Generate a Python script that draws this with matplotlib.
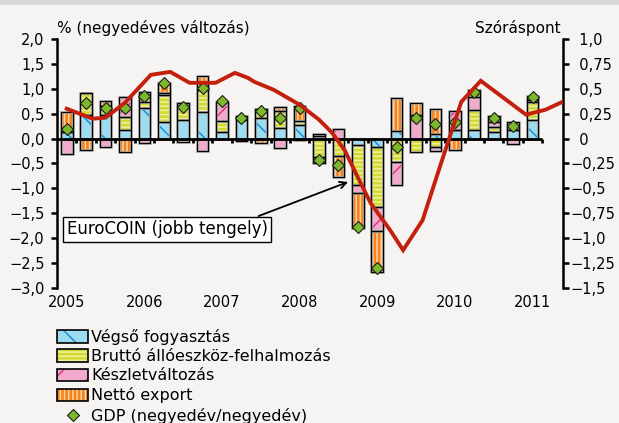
import matplotlib
matplotlib.use("Agg")
import matplotlib.pyplot as plt
from matplotlib.patches import Rectangle
from matplotlib.lines import Line2D
from matplotlib.legend_handler import HandlerTuple
import numpy as np

# ---------------- data ----------------
quarters = ["2005Q1", "2005Q2", "2005Q3", "2005Q4",
            "2006Q1", "2006Q2", "2006Q3", "2006Q4",
            "2007Q1", "2007Q2", "2007Q3", "2007Q4",
            "2008Q1", "2008Q2", "2008Q3", "2008Q4",
            "2009Q1", "2009Q2", "2009Q3", "2009Q4",
            "2010Q1", "2010Q2", "2010Q3", "2010Q4",
            "2011Q1"]
year_labels = ["2005", "2006", "2007", "2008", "2009", "2010", "2011"]

vegso = [0.14, 0.47, 0.47, 0.17, 0.61, 0.34, 0.37, 0.54, 0.14, 0.38, 0.41, 0.22, 0.27,
         0.05, 0.00, -0.13, -0.16, 0.15, 0.00, 0.10, 0.17, 0.17, 0.14, 0.17, 0.37]
brutto = [0.00, 0.44, 0.18, 0.27, 0.13, 0.53, 0.34, 0.43, 0.22, 0.08, 0.18, 0.33, 0.09,
          -0.37, -0.35, -0.80, -1.21, -0.47, -0.26, -0.16, 0.00, 0.40, 0.10, 0.00, 0.37]
keszlet = [-0.30, 0.00, -0.17, 0.40, -0.08, 0.05, 0.00, -0.24, 0.38, 0.00, 0.00, -0.18, -0.03,
           -0.13, 0.20, -0.16, -0.49, -0.46, 0.47, -0.09, 0.39, 0.27, 0.10, -0.10, 0.03]
netto = [0.40, -0.23, 0.11, -0.26, 0.20, 0.19, -0.06, 0.28, 0.00, -0.04, -0.08, 0.08, 0.30,
         0.04, -0.42, -0.71, -0.81, 0.66, 0.25, 0.49, -0.23, 0.13, 0.11, 0.17, 0.09]
gdp = [0.20, 0.71, 0.61, 0.61, 0.85, 1.11, 0.64, 1.01, 0.76, 0.41, 0.55, 0.42, 0.61,
       -0.42, -0.53, -1.77, -2.59, -0.16, 0.42, 0.29, 0.34, 0.94, 0.41, 0.25, 0.83]

# EuroCOIN (monthly readings, right axis)
eurocoin_months = ["2005-01", "2005-05", "2005-07", "2005-10", "2006-02", "2006-05",
                   "2006-08", "2006-12", "2007-03", "2007-05", "2007-06", "2007-09",
                   "2008-01", "2008-04", "2008-06", "2008-08", "2008-10", "2008-12",
                   "2009-03", "2009-05", "2009-08", "2009-11", "2010-02", "2010-05",
                   "2010-12", "2011-03", "2011-06"]
eurocoin = [0.30, 0.20, 0.21, 0.36, 0.64, 0.67,
            0.56, 0.56, 0.66, 0.61, 0.57, 0.49,
            0.34, 0.19, 0.06, -0.12, -0.39, -0.65,
            -0.92, -1.12, -0.82, -0.22, 0.37, 0.58,
            0.24, 0.29, 0.38]

series_names = ["Végső fogyasztás", "Bruttó állóeszköz-felhalmozás",
                "Készletváltozás", "Nettó export"]
gdp_name = "GDP (negyedév/negyedév)"
left_title = "% (negyedéves változás)"
right_title = "Szóráspont"
annot_text = "EuroCOIN (jobb tengely)"

# ---------------- style ----------------
BG = "#F5F4F2"
fills = ["#9CDCF1", "#D2DA32", "#F2AACC", "#F4821F"]
hatch_cols = ["#1C8FD6", "#F0F0A0", "#E2358A", "#FFD3A0"]
hatches = ["\\", "----", "/", "||||"]
plt.rcParams["hatch.linewidth"] = 1.1
plt.rcParams["font.family"] = ["DejaVu Sans"]

def fmt(v, dec, pad_pos=False):
    if dec == 0:
        s = "0"
    else:
        s = f"{abs(v):.{dec}f}".replace(".", ",")
        if dec == 2 and s.endswith("0"):
            s = s[:-1]
    if v < -1e-9:
        return "\u2212" + s
    return ("\u2007" + s) if pad_pos else s

fig = plt.figure(figsize=(6.19, 4.23), dpi=100, facecolor=BG)
fig.patches.append(Rectangle((0, 1 - 5 / 423), 1, 5 / 423, transform=fig.transFigure,
                             facecolor="#D9D8D6", edgecolor="none"))
ax = fig.add_axes([57 / 619, 1 - 288 / 423, (563 - 57) / 619, (288 - 39) / 423])
ax.set_facecolor(BG)
ax.set_xlim(-0.5, 25.57)
ax.set_ylim(-3.0, 2.0)

x = np.arange(len(quarters))
W = 0.6
data = [np.array(vegso), np.array(brutto), np.array(keszlet), np.array(netto)]
pos_base = np.zeros(len(x))
neg_base = np.zeros(len(x))
for k, vals in enumerate(data):
    bottoms = np.where(vals >= 0, pos_base, neg_base)
    ax.bar(x, vals, W, bottom=bottoms, color=fills[k], edgecolor="none", zorder=2)
    ax.bar(x, vals, W, bottom=bottoms, facecolor="none", edgecolor=hatch_cols[k],
           hatch=hatches[k], linewidth=0, zorder=3)
    ax.bar(x, vals, W, bottom=bottoms, facecolor="none", edgecolor="#B4B4B4",
           linewidth=2.0, zorder=3.5)
    ax.bar(x, vals, W, bottom=bottoms, facecolor="none", edgecolor="black",
           linewidth=0.9, zorder=4)
    pos_base = pos_base + np.where(vals >= 0, vals, 0)
    neg_base = neg_base + np.where(vals < 0, vals, 0)

ax.plot(x, gdp, linestyle="none", marker="D", markersize=6.5, markerfacecolor="#7CB829",
        markeredgecolor="#1A1A1A", markeredgewidth=0.8, zorder=6)

# category axis line with boundary ticks
ax.hlines(0, -0.5, len(x) - 0.5, color="black", linewidth=2.0, zorder=5)
ax.vlines(np.arange(0.5, len(x) - 0.4, 1), -0.08, 0, color="black", linewidth=2.0, zorder=5)

for s in ["top", "bottom"]:
    ax.spines[s].set_visible(False)
ax.spines["left"].set_linewidth(1.8)
ax.spines["right"].set_visible(False)

yt = np.arange(-3.0, 2.01, 0.5)
ax.set_yticks(yt)
ax.set_yticklabels([fmt(v, 1) for v in yt])
ax.tick_params(axis="y", direction="out", length=4, width=1.8, labelsize=10.5, pad=5)
ax.set_xticks(np.arange(0, len(x), 4))
ax.set_xticklabels(year_labels)
ax.tick_params(axis="x", length=0, labelsize=10.5, pad=5)

ax2 = ax.twinx()
ax2.set_ylim(-1.5, 1.0)
for s in ["top", "bottom", "left"]:
    ax2.spines[s].set_visible(False)
ax2.spines["right"].set_linewidth(1.8)
yt2 = np.arange(-1.5, 1.01, 0.25)
ax2.set_yticks(yt2)
labels2 = []
for v in yt2:
    if abs(v) < 1e-9:
        labels2.append(fmt(v, 0, True))
    elif abs(v * 2 - round(v * 2)) < 1e-9:
        labels2.append(fmt(v, 1, True))
    else:
        labels2.append(fmt(v, 2, True))
ax2.set_yticklabels(labels2)
ax2.tick_params(axis="y", direction="out", length=4, width=1.8, labelsize=10.5, pad=1)

mpos = [((int(m[:4]) - 2005) * 12 + int(m[5:]) - 1) / 3 for m in eurocoin_months]
ax2.plot(mpos, eurocoin, color="#C3210E", linewidth=2.8, solid_joinstyle="miter", zorder=7)

ax2.annotate(annot_text, xy=(14.5, -0.87), xycoords=ax.transData,
             xytext=(0.0, -1.82), textcoords=ax.transData, fontsize=12,
             ha="left", va="center",
             bbox=dict(boxstyle="square,pad=0.22", facecolor="white", edgecolor="black", linewidth=1.0),
             arrowprops=dict(arrowstyle="->", color="black", linewidth=1.3,
                             relpos=(0.9, 1.0), shrinkA=0, shrinkB=0),
             zorder=8)

fig.text(57 / 619, 1 - 33 / 423, left_title, fontsize=11, va="baseline", ha="left")
fig.text(561 / 619, 1 - 33 / 423, right_title, fontsize=11, va="baseline", ha="right")

# legend
handles = []
for k in range(4):
    p1 = Rectangle((0, 0), 1, 1, facecolor=fills[k], edgecolor="none")
    p2 = Rectangle((0, 0), 1, 1, facecolor="none", edgecolor=hatch_cols[k],
                   hatch=hatches[k], linewidth=0)
    p3 = Rectangle((0, 0), 1, 1, facecolor="none", edgecolor="black", linewidth=1.2)
    handles.append((p1, p2, p3))
handles.append(Line2D([], [], linestyle="none", marker="D", markersize=6.5,
                      markerfacecolor="#7CB829", markeredgecolor="#1A1A1A",
                      markeredgewidth=0.8))
fig.legend(handles, series_names + [gdp_name], loc="upper left",
           bbox_to_anchor=(57 / 619, 1 - 329 / 423), frameon=False, fontsize=11.5,
           handlelength=1.95, handleheight=0.8, handletextpad=0.2,
           labelspacing=0.26, borderpad=0, borderaxespad=0,
           handler_map={tuple: HandlerTuple(ndivide=1, pad=0)})

fig.savefig("out.png", dpi=100, facecolor=BG)
